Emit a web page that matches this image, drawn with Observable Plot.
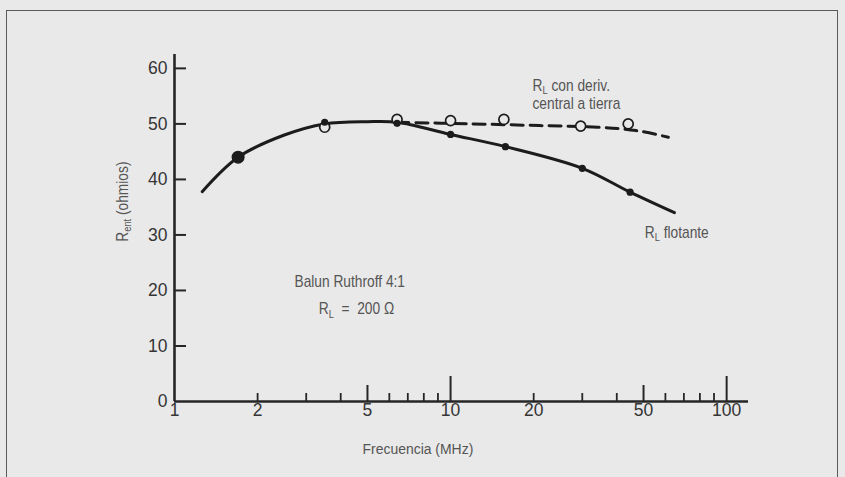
<!DOCTYPE html>
<html>
<head>
<meta charset="utf-8">
<script src="https://cdn.jsdelivr.net/npm/d3@7"></script>
<script src="https://cdn.jsdelivr.net/npm/@observablehq/plot@0.6"></script>
<style>
html, body { margin: 0; padding: 0; background: #e9e9e9; }
#wrap { position: relative; width: 845px; height: 477px; overflow: hidden; background: #e9e9e9; }
#frame { position: absolute; left: 6px; top: 10px; width: 832px; height: 500px; border: 1.5px solid #5a5a5a; box-sizing: border-box; }
#wrap svg { position: absolute; left: 0; top: 0; }
</style>
</head>
<body>
<div id="wrap"><div id="frame"></div></div>
<script>
// ---- tick values / labels ----
const yTickValues = [0, 10, 20, 30, 40, 50, 60];
const xLabelValues = [1, 2, 5, 10, 20, 50, 100];
const xMajorTicks = [10, 100];
const xMidTicks = [5, 50];
const xMinorTicks = [2, 3, 4, 6, 7, 8, 9, 20, 30, 40, 60, 70, 80, 90];

// ---- R_L flotante (solid curve + filled dots) ----
const flotanteCurveMHz = [1.26, 1.7, 2.5, 3.5, 5, 6.4, 10, 15.8, 30, 44.7, 64.7];
const flotanteCurveOhm = [37.8, 44.0, 48.0, 50.0, 50.4, 50.3, 48.1, 45.9, 42.0, 37.7, 34.0];
const flotanteDotMHz = [1.7, 3.5, 6.4, 10, 15.8, 30, 44.7];
const flotanteDotOhm = [44.0, 50.3, 50.1, 48.1, 45.9, 42.0, 37.7];

// ---- R_L con derivación central a tierra (dashed + open circles) ----
const derivLineMHz = [6.4, 12, 21, 34, 47, 61.5];
const derivLineOhm = [50.3, 50.0, 49.7, 49.4, 48.8, 47.6];
const derivCircleMHz = [3.5, 6.4, 10, 15.6, 29.6, 44];
const derivCircleOhm = [49.4, 50.8, 50.6, 50.8, 49.6, 50.0];

const zip = (xs, ys) => xs.map((x, i) => ({f: x, r: ys[i]}));
const flotCurve = zip(flotanteCurveMHz, flotanteCurveOhm);
const flotDots = zip(flotanteDotMHz, flotanteDotOhm);
const derivLine = zip(derivLineMHz, derivLineOhm);
const derivCircles = zip(derivCircleMHz, derivCircleOhm);

const INK = "#1c1c1c";
const AXIS = "#262626";
const TXT = "#555";
const LBL = "#353535";
const SANS = "'Liberation Sans', Arial, Helvetica, sans-serif";
const BG = "#e9e9e9";

const note = (text, x, y, extra = {}) =>
  Plot.text([text], {x, y, text: d => d, textAnchor: "start", lineAnchor: "bottom",
    fontSize: 16, fill: TXT, className: "narrow", ...extra});

const plot = Plot.plot({
  width: 845,
  height: 477,
  marginLeft: 174,
  marginRight: 97,
  marginTop: 54,
  marginBottom: 76,
  style: {background: "transparent", fontFamily: SANS, overflow: "visible"},
  x: {type: "log", domain: [1, 120], axis: null},
  y: {domain: [0, 62.5], axis: null},
  marks: [
    // axes lines
    Plot.ruleX([1], {stroke: AXIS, strokeWidth: 2.6}),
    Plot.ruleY([0], {stroke: AXIS, strokeWidth: 2.6}),
    // y ticks (pointing inward)
    Plot.ruleY(yTickValues.filter(d => d > 0), {y: d => d, x1: 1, x2: 1, insetRight: -12, stroke: AXIS, strokeWidth: 2}),
    // x ticks (pointing up)
    Plot.ruleX(xMajorTicks, {x: d => d, y1: 0, y2: 0, insetTop: -25, stroke: AXIS, strokeWidth: 2}),
    Plot.ruleX(xMidTicks, {x: d => d, y1: 0, y2: 0, insetTop: -16, stroke: AXIS, strokeWidth: 2}),
    Plot.ruleX(xMinorTicks, {x: d => d, y1: 0, y2: 0, insetTop: -8, stroke: AXIS, strokeWidth: 1.8}),
    // tick labels
    Plot.text(yTickValues, {y: d => d, frameAnchor: "left", dx: -7, text: d => String(d), textAnchor: "end", fontSize: 17.5, fill: LBL}),
    Plot.text(xLabelValues, {x: d => d, frameAnchor: "bottom", dy: 14, text: d => String(d), fontSize: 17.5, fill: LBL}),
    // axis titles
    Plot.text(["Frecuencia (MHz)"], {x: 4.8, frameAnchor: "bottom", dy: 52, text: d => d, textAnchor: "start", lineAnchor: "bottom", fontSize: 15, fill: TXT, className: "semi"}),
    Plot.text(["R_{ent} (ohmios)"], {y: 36, frameAnchor: "left", dx: -52, rotate: -90, text: d => d, textAnchor: "middle", lineAnchor: "middle", fontSize: 16, fill: TXT, className: "narrow"}),
    // curves
    Plot.line(flotCurve, {x: "f", y: "r", curve: "catmull-rom", stroke: INK, strokeWidth: 3}),
    Plot.line(derivLine, {x: "f", y: "r", curve: "catmull-rom", stroke: INK, strokeWidth: 3, strokeDasharray: "12,7"}),
    Plot.dot(derivCircles, {x: "f", y: "r", r: 5, stroke: INK, strokeWidth: 1.7, fill: BG}),
    Plot.dot(flotDots.slice(1), {x: "f", y: "r", r: 3.6, fill: INK}),
    Plot.dot(flotDots.slice(0, 1), {x: "f", y: "r", r: 6.5, fill: INK}),
    // annotations
    note("R_{L} con deriv.", 19.8, 56.0),
    note("central a tierra", 19.8, 52.6),
    note("R_{L} flotante", 50.5, 29.4),
    note("Balun Ruthroff 4:1", 2.72, 20.7),
    note("R_{L}  =  200 Ω", 3.33, 15.7)
  ]
});

// subscripts: turn "_{...}" into lowered, smaller tspans (text stays real text)
plot.querySelectorAll("text").forEach(t => {
  const s = t.textContent;
  if (!s || !s.includes("_{")) return;
  t.textContent = "";
  s.split(/(_\{[^}]*\})/).forEach(p => {
    if (!p) return;
    const ts = document.createElementNS("http://www.w3.org/2000/svg", "tspan");
    if (p.startsWith("_{")) {
      ts.textContent = p.slice(2, -1);
      ts.setAttribute("baseline-shift", "-30%");
      ts.setAttribute("font-size", "68%");
    } else {
      ts.textContent = p;
    }
    t.appendChild(ts);
  });
});

// emulate the condensed typeface of the original (no condensed font installed)
const condense = (sel, k) => plot.querySelectorAll(sel).forEach(t => {
  const tr = t.getAttribute("transform") || "";
  t.setAttribute("transform", (tr + ` scale(${k},1)`).trim());
});
condense("g.narrow text", 0.86);
condense("g.semi text", 0.93);

document.getElementById("wrap").appendChild(plot);
</script>
</body>
</html>
